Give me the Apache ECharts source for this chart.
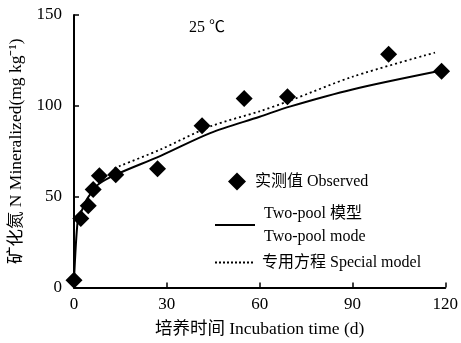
<!DOCTYPE html>
<html><head><meta charset="utf-8">
<script src="https://cdn.jsdelivr.net/npm/echarts@6/dist/echarts.min.js"></script>
<style>html,body{margin:0;padding:0;background:#fff}#c{width:461px;height:343px}</style>
</head><body><div id="c"></div>
<script>
const xTicks = [0, 30, 60, 90, 120];
const yTicks = [0, 50, 100, 150];
const observedDays = [0, 2.2, 4.6, 6.2, 8.2, 13.5, 27, 41.4, 55, 69, 101.7, 118.8];
const observedN =    [4, 38, 45, 54, 61.5, 62, 65.4, 89, 104, 105, 128.4, 119];
const twoPoolDays = [0, 1.2, 2.2, 4, 6, 8, 14, 28, 44, 60, 70, 90, 118.8];
const twoPoolN =    [4, 37, 41, 48, 53, 57, 62.5, 72.5, 85, 94, 99.7, 109, 119.4];
const specialDays = [13, 15, 28, 44, 60, 70, 90, 116.7];
const specialN =    [65.5, 67, 76, 88.6, 97, 103, 116, 129.3];
const names = ['实测值 Observed', 'Two-pool 模型\nTwo-pool mode', '专用方程 Special model'];
const FONT = '"Liberation Serif", "Noto Sans CJK SC", serif';

const chart = echarts.init(document.getElementById('c'));
const zip = (a, b) => a.map((v, i) => [v, b[i]]);
const legendBase = {
  orient: 'vertical', itemGap: 0,
  textStyle: { fontFamily: FONT, fontSize: 16, color: '#000', lineHeight: 23, padding: [0, 0, 0, 4] },
  selectedMode: false
};
const dotPath = 'path://' + Array.from({ length: 10 }, (_, i) => 'M' + (i * 4) + ',0h2v2h-2z').join('');
chart.setOption({
  animation: false,
  backgroundColor: '#fff',
  grid: { left: 74, right: 14, top: 15, bottom: 55 },
  title: {
    text: '25 ℃', left: 184, top: 15,
    textStyle: { fontFamily: FONT, fontSize: 16, fontWeight: 'normal', color: '#000' }
  },
  legend: [
    Object.assign({}, legendBase, { data: [{ name: names[0], icon: 'diamond' }], left: 223, top: 165, itemWidth: 18, itemHeight: 18, itemStyle: { color: '#000', opacity: 1 } }),
    Object.assign({}, legendBase, { data: [{ name: names[1], icon: 'rect' }], left: 210, top: 197, itemWidth: 40, itemHeight: 2, itemStyle: { color: '#000' } }),
    Object.assign({}, legendBase, { data: [{ name: names[2], icon: dotPath }], left: 210, top: 246, itemWidth: 38, itemHeight: 2, itemStyle: { color: '#000' } })
  ],
  xAxis: {
    type: 'value', min: 0, max: 120, interval: 30,
    name: '培养时间 Incubation time (d)', nameLocation: 'middle', nameGap: 33,
    nameTextStyle: { fontFamily: FONT, fontSize: 17.5, color: '#000' },
    axisLine: { lineStyle: { color: '#000', width: 2 } },
    axisTick: { inside: true, length: 5, lineStyle: { color: '#000', width: 1.5 } },
    axisLabel: { fontFamily: FONT, fontSize: 17, color: '#000', margin: 9 },
    splitLine: { show: false }
  },
  yAxis: {
    type: 'value', min: 0, max: 150, interval: 50,
    name: '矿化氮 N Mineralized(mg kg⁻¹)', nameLocation: 'middle', nameGap: 43,
    nameTextStyle: { fontFamily: FONT, fontSize: 17.5, color: '#000' },
    axisLine: { show: true, lineStyle: { color: '#000', width: 2 } },
    axisTick: { show: true, inside: true, length: 5, lineStyle: { color: '#000', width: 1.5 } },
    axisLabel: { fontFamily: FONT, fontSize: 17, color: '#000', margin: 12 },
    splitLine: { show: false }
  },
  series: [
    { name: names[1], type: 'line', data: zip(twoPoolDays, twoPoolN), showSymbol: false, symbol: 'none', smooth: 0.3,
      lineStyle: { color: '#000', width: 2 }, itemStyle: { color: '#000' }, z: 2 },
    { name: names[2], type: 'line', data: zip(specialDays, specialN), showSymbol: false, symbol: 'none', smooth: 0.3,
      lineStyle: { color: '#000', width: 1.8, type: [2, 3] }, itemStyle: { color: '#000' }, z: 2 },
    { name: names[0], type: 'scatter', data: zip(observedDays, observedN), symbol: 'diamond', symbolSize: 17,
      itemStyle: { color: '#000', opacity: 1 }, z: 3 }
  ]
});
</script></body></html>
